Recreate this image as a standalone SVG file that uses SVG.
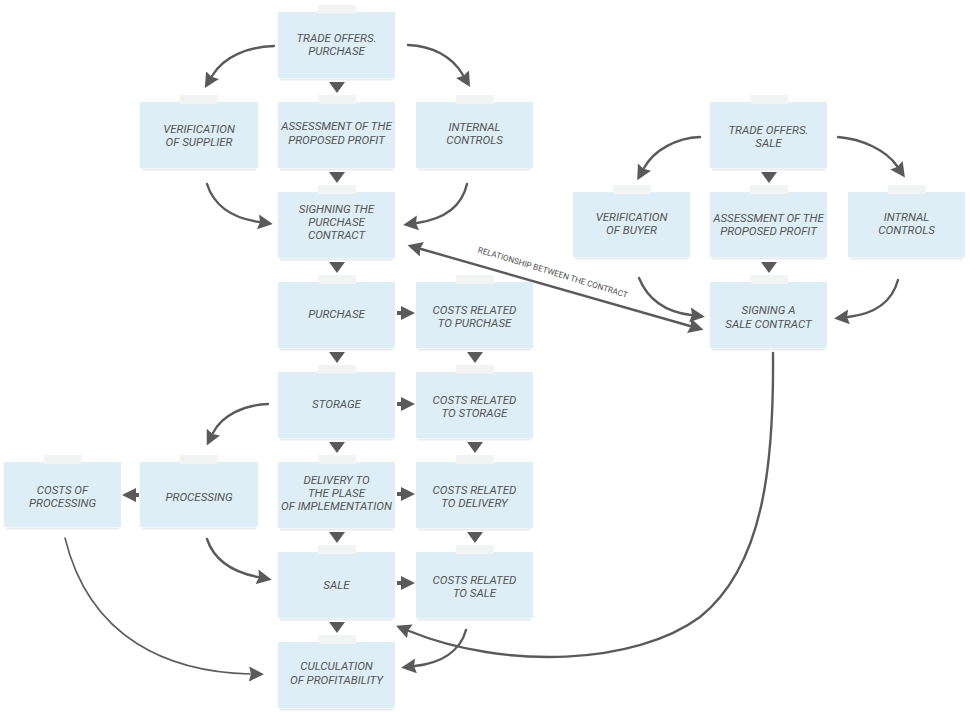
<svg xmlns="http://www.w3.org/2000/svg" width="970" height="712" viewBox="0 0 970 712">
<style>
.box{fill:#ddeef6;}
.tab{fill:#f2f3f3;}
.edge{stroke:url(#edgeGrad);stroke-width:1.6;fill:none;}
.shadow{stroke:#000;stroke-opacity:0.08;stroke-width:2;fill:none;}
.t{font-family:Roboto,"Liberation Sans",sans-serif;font-style:italic;font-size:11.5px;fill:#555;text-anchor:middle;}
.lbl{font-family:Roboto,"Liberation Sans",sans-serif;font-size:8.2px;fill:#505050;text-anchor:middle;}
.arr{fill:none;stroke:#5a5a5a;stroke-width:2.4;stroke-linecap:round;marker-end:url(#head);}
.thin{stroke-width:1.6;}
.head{fill:#5a5a5a;}
</style>
<defs>
<linearGradient id="edgeGrad" x1="0" y1="0" x2="1" y2="0">
<stop offset="0" stop-color="#888" stop-opacity="0.5"/>
<stop offset="0.15" stop-color="#666"/>
<stop offset="0.85" stop-color="#666"/>
<stop offset="1" stop-color="#888" stop-opacity="0.5"/>
</linearGradient>
<marker id="head" viewBox="0 0 15 15" refX="1" refY="7.5" markerWidth="15" markerHeight="15" markerUnits="userSpaceOnUse" orient="auto-start-reverse">
<path d="M0,0 L15,7.5 L0,15 L2,7.5 z" fill="#5a5a5a"/>
</marker>
</defs>
<rect width="970" height="712" fill="#ffffff"/>

<g id="connectors">
<path class="arr" d="M274 46 C248 47 224 56 212 76"/>
<path class="arr" d="M408 45 C432 46 452 56 463 75"/>
<path class="arr" d="M207 184 C214 206 232 218 259 222"/>
<path class="arr" d="M467 184 C462 206 444 219 417 223"/>
<path class="arr" d="M421 249 L690 326" marker-start="url(#head)"/>
<path class="arr" d="M639 278 C648 300 666 312 691 315"/>
<path class="arr" d="M898 280 C892 302 874 314 848 317"/>
<path class="arr" d="M700 137 C676 138 654 150 644 168"/>
<path class="arr" d="M838 137 C862 139 886 150 897 166"/>
<path class="arr" d="M268 404 C244 405 222 415 213 433"/>
<path class="arr" d="M207 539 C214 560 232 572 258 577"/>
<path class="arr thin" d="M65 538 C90 640 170 672 250 674"/>
<path class="arr" d="M466 630 C460 652 440 663 415 666"/>
<path class="arr" d="M773 353 C774 460 765 565 700 617 C635 665 505 670 409 631"/>
<!-- down triangles -->
<polygon class="head" points="329,82 345,82 337,93"/>
<polygon class="head" points="329,172 345,172 337,183"/>
<polygon class="head" points="329,262 345,262 337,273"/>
<polygon class="head" points="329,352 345,352 337,363"/>
<polygon class="head" points="329,442 345,442 337,453"/>
<polygon class="head" points="329,532 345,532 337,543"/>
<polygon class="head" points="329,622 345,622 337,633"/>
<polygon class="head" points="467,352 483,352 475,363"/>
<polygon class="head" points="467,442 483,442 475,453"/>
<polygon class="head" points="467,532 483,532 475,543"/>
<polygon class="head" points="761,172 777,172 769,183"/>
<polygon class="head" points="761,262 777,262 769,273"/>
<!-- right triangles -->
<polygon class="head" points="397,311 401,311 401,306 415,313 401,320 401,315 397,315"/>
<polygon class="head" points="397,402 401,402 401,397 415,404 401,411 401,406 397,406"/>
<polygon class="head" points="397,492 401,492 401,487 415,494 401,501 401,496 397,496"/>
<polygon class="head" points="397,581 401,581 401,576 415,583 401,590 401,585 397,585"/>
<!-- left triangle -->
<polygon class="head" points="139,493 136,493 136,488 122,495 136,502 136,497 139,497"/>
<text class="lbl" transform="translate(552,275) rotate(17)">RELATIONSHIP BETWEEN THE CONTRACT</text>
</g>

<g id="n-trade-purchase">
<rect class="box" x="278" y="12" width="117" height="66"/>
<line class="shadow" x1="280" y1="79.5" x2="393" y2="79.5"/><line class="edge" x1="278" y1="78" x2="395" y2="78"/>
<rect class="tab" x="318" y="5" width="38" height="9"/>
<text class="t" x="336.5" y="42">TRADE OFFERS.</text><text class="t" x="336.5" y="55">PURCHASE</text>
</g>

<g id="n-verif-supplier">
<rect class="box" x="140" y="102" width="118" height="66"/>
<line class="shadow" x1="142" y1="169.5" x2="256" y2="169.5"/><line class="edge" x1="140" y1="168" x2="258" y2="168"/>
<rect class="tab" x="180" y="95" width="38" height="9"/>
<text class="t" x="199" y="132.5">VERIFICATION</text><text class="t" x="199" y="145.5">OF SUPPLIER</text>
</g>

<g id="n-assess-purchase">
<rect class="box" x="278" y="102" width="117" height="66"/>
<line class="shadow" x1="280" y1="169.5" x2="393" y2="169.5"/><line class="edge" x1="278" y1="168" x2="395" y2="168"/>
<rect class="tab" x="318" y="95" width="38" height="9"/>
<text class="t" x="336.5" y="130">ASSESSMENT OF THE</text><text class="t" x="336.5" y="143.5">PROPOSED PROFIT</text>
</g>

<g id="n-internal">
<rect class="box" x="416" y="102" width="117" height="66"/>
<line class="shadow" x1="418" y1="169.5" x2="531" y2="169.5"/><line class="edge" x1="416" y1="168" x2="533" y2="168"/>
<rect class="tab" x="456" y="95" width="38" height="9"/>
<text class="t" x="474.5" y="131">INTERNAL</text><text class="t" x="474.5" y="144">CONTROLS</text>
</g>

<g id="n-signing-purchase">
<rect class="box" x="278" y="192" width="117" height="66"/>
<line class="shadow" x1="280" y1="259.5" x2="393" y2="259.5"/><line class="edge" x1="278" y1="258" x2="395" y2="258"/>
<rect class="tab" x="318" y="185" width="38" height="9"/>
<text class="t" x="336.5" y="212.5">SIGHNING THE</text><text class="t" x="336.5" y="225.5">PURCHASE</text><text class="t" x="336.5" y="238.5">CONTRACT</text>
</g>

<g id="n-purchase">
<rect class="box" x="278" y="282" width="117" height="66"/>
<line class="shadow" x1="280" y1="349.5" x2="393" y2="349.5"/><line class="edge" x1="278" y1="348" x2="395" y2="348"/>
<rect class="tab" x="318" y="275" width="38" height="9"/>
<text class="t" x="336.5" y="318">PURCHASE</text>
</g>

<g id="n-costs-purchase">
<rect class="box" x="416" y="282" width="117" height="66"/>
<line class="shadow" x1="418" y1="349.5" x2="531" y2="349.5"/><line class="edge" x1="416" y1="348" x2="533" y2="348"/>
<rect class="tab" x="456" y="275" width="38" height="9"/>
<text class="t" x="474.5" y="313.5">COSTS RELATED</text><text class="t" x="474.5" y="327">TO PURCHASE</text>
</g>

<g id="n-storage">
<rect class="box" x="278" y="372" width="117" height="66"/>
<line class="shadow" x1="280" y1="439.5" x2="393" y2="439.5"/><line class="edge" x1="278" y1="438" x2="395" y2="438"/>
<rect class="tab" x="318" y="365" width="38" height="9"/>
<text class="t" x="336.5" y="408">STORAGE</text>
</g>

<g id="n-costs-storage">
<rect class="box" x="416" y="372" width="117" height="66"/>
<line class="shadow" x1="418" y1="439.5" x2="531" y2="439.5"/><line class="edge" x1="416" y1="438" x2="533" y2="438"/>
<rect class="tab" x="456" y="365" width="38" height="9"/>
<text class="t" x="474.5" y="403.5">COSTS RELATED</text><text class="t" x="474.5" y="417">TO STORAGE</text>
</g>

<g id="n-costs-processing">
<rect class="box" x="4" y="462" width="117" height="65"/>
<line class="shadow" x1="6" y1="528.5" x2="119" y2="528.5"/><line class="edge" x1="4" y1="527" x2="121" y2="527"/>
<rect class="tab" x="44" y="455" width="38" height="9"/>
<text class="t" x="62.5" y="493.5">COSTS OF</text><text class="t" x="62.5" y="507">PROCESSING</text>
</g>

<g id="n-processing">
<rect class="box" x="140" y="462" width="118" height="65"/>
<line class="shadow" x1="142" y1="528.5" x2="256" y2="528.5"/><line class="edge" x1="140" y1="527" x2="258" y2="527"/>
<rect class="tab" x="180" y="455" width="38" height="9"/>
<text class="t" x="199" y="500.5">PROCESSING</text>
</g>

<g id="n-delivery">
<rect class="box" x="278" y="462" width="117" height="66"/>
<line class="shadow" x1="280" y1="529.5" x2="393" y2="529.5"/><line class="edge" x1="278" y1="528" x2="395" y2="528"/>
<rect class="tab" x="318" y="455" width="38" height="9"/>
<text class="t" x="336.5" y="484">DELIVERY TO</text><text class="t" x="336.5" y="497">THE PLASE</text><text class="t" x="336.5" y="510">OF IMPLEMENTATION</text>
</g>

<g id="n-costs-delivery">
<rect class="box" x="416" y="462" width="117" height="66"/>
<line class="shadow" x1="418" y1="529.5" x2="531" y2="529.5"/><line class="edge" x1="416" y1="528" x2="533" y2="528"/>
<rect class="tab" x="456" y="455" width="38" height="9"/>
<text class="t" x="474.5" y="493.5">COSTS RELATED</text><text class="t" x="474.5" y="507">TO DELIVERY</text>
</g>

<g id="n-sale">
<rect class="box" x="278" y="552" width="117" height="66"/>
<line class="shadow" x1="280" y1="619.5" x2="393" y2="619.5"/><line class="edge" x1="278" y1="618" x2="395" y2="618"/>
<rect class="tab" x="318" y="545" width="38" height="9"/>
<text class="t" x="336.5" y="589">SALE</text>
</g>

<g id="n-costs-sale">
<rect class="box" x="416" y="552" width="117" height="66"/>
<line class="shadow" x1="418" y1="619.5" x2="531" y2="619.5"/><line class="edge" x1="416" y1="618" x2="533" y2="618"/>
<rect class="tab" x="456" y="545" width="38" height="9"/>
<text class="t" x="474.5" y="583.5">COSTS RELATED</text><text class="t" x="474.5" y="597">TO SALE</text>
</g>

<g id="n-calc">
<rect class="box" x="278" y="642" width="117" height="66"/>
<line class="shadow" x1="280" y1="709.5" x2="393" y2="709.5"/><line class="edge" x1="278" y1="708" x2="395" y2="708"/>
<rect class="tab" x="318" y="635" width="38" height="9"/>
<text class="t" x="336.5" y="670">CULCULATION</text><text class="t" x="336.5" y="683.5">OF PROFITABILITY</text>
</g>

<g id="n-trade-sale">
<rect class="box" x="710" y="102" width="117" height="66"/>
<line class="shadow" x1="712" y1="169.5" x2="825" y2="169.5"/><line class="edge" x1="710" y1="168" x2="827" y2="168"/>
<rect class="tab" x="750" y="95" width="38" height="9"/>
<text class="t" x="768.5" y="133.5">TRADE OFFERS.</text><text class="t" x="768.5" y="147">SALE</text>
</g>

<g id="n-verif-buyer">
<rect class="box" x="573" y="192" width="117" height="65"/>
<line class="shadow" x1="575" y1="258.5" x2="688" y2="258.5"/><line class="edge" x1="573" y1="257" x2="690" y2="257"/>
<rect class="tab" x="613" y="185" width="38" height="9"/>
<text class="t" x="631.5" y="220.5">VERIFICATION</text><text class="t" x="631.5" y="233.5">OF BUYER</text>
</g>

<g id="n-assess-sale">
<rect class="box" x="710" y="192" width="117" height="65"/>
<line class="shadow" x1="712" y1="258.5" x2="825" y2="258.5"/><line class="edge" x1="710" y1="257" x2="827" y2="257"/>
<rect class="tab" x="750" y="185" width="38" height="9"/>
<text class="t" x="768.5" y="221.5">ASSESSMENT OF THE</text><text class="t" x="768.5" y="234.5">PROPOSED PROFIT</text>
</g>

<g id="n-intrnal">
<rect class="box" x="848" y="192" width="117" height="65"/>
<line class="shadow" x1="850" y1="258.5" x2="963" y2="258.5"/><line class="edge" x1="848" y1="257" x2="965" y2="257"/>
<rect class="tab" x="888" y="185" width="38" height="9"/>
<text class="t" x="906.5" y="221">INTRNAL</text><text class="t" x="906.5" y="234">CONTROLS</text>
</g>

<g id="n-signing-sale">
<rect class="box" x="710" y="282" width="117" height="66"/>
<line class="shadow" x1="712" y1="349.5" x2="825" y2="349.5"/><line class="edge" x1="710" y1="348" x2="827" y2="348"/>
<rect class="tab" x="750" y="275" width="38" height="9"/>
<text class="t" x="768.5" y="314">SIGNING A</text><text class="t" x="768.5" y="327.5">SALE CONTRACT</text>
</g>
</svg>
